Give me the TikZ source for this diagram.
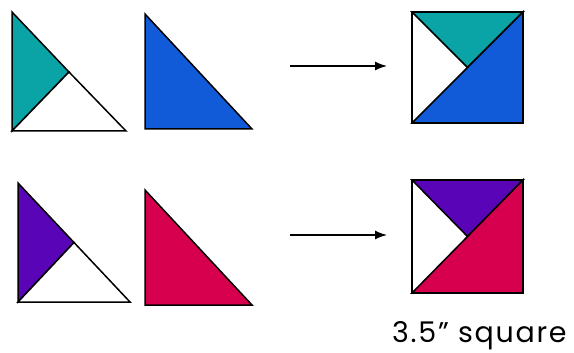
\documentclass[tikz,border=0pt]{standalone}
\usepackage{fontspec}
\setmainfont{Poppins}
\newfontfamily\beschrift{Poppins}[LetterSpace=6]
\usetikzlibrary{arrows.meta}
\definecolor{tuerkis}{HTML}{0AA4A7}
\definecolor{blau}{HTML}{115BD9}
\definecolor{lila}{HTML}{5A04B8}
\definecolor{rot}{HTML}{D6004F}
\tikzset{
  teil/.style={draw=black,line width=1.5pt,line join=miter},
  pfeil/.style={-{Latex[length=12pt,width=9pt]},black,line width=1.3pt},
}

\begin{document}
\begin{tikzpicture}[x=1pt,y=-1pt]
  \useasboundingbox (0,0) rectangle (574,353);
  % top row
  \draw[teil,fill=tuerkis] (12,12)--(69,72)--(12,131)--cycle;
  \draw[teil,fill=white] (12,131)--(69,72)--(126,131)--cycle;
  \draw[teil,fill=blau] (145,14)--(145,129)--(252,129)--cycle;
  \coordinate (a1) at (290,66); \coordinate (b1) at (387,66);
  \draw[pfeil] (a1)--(b1);
  \draw[teil,fill=tuerkis] (412,12)--(523,12)--(467.5,67.5)--cycle;
  \draw[teil,fill=blau] (412,123)--(523,12)--(523,123)--cycle;
  \draw[teil] (412,12) rectangle (523,123);
  % bottom row
  \draw[teil,fill=lila] (18,183)--(74,242.5)--(18,302)--cycle;
  \draw[teil,fill=white] (18,302)--(74,242.5)--(130,302)--cycle;
  \draw[teil,fill=rot] (145,190)--(145,305)--(252,305)--cycle;
  \coordinate (a2) at (290,235); \coordinate (b2) at (387,235);
  \draw[pfeil] (a2)--(b2);
  \draw[teil,fill=lila] (412,180)--(523,180)--(467.5,236.5)--cycle;
  \draw[teil,fill=rot] (412,293)--(523,180)--(523,293)--cycle;
  \draw[teil] (412,180) rectangle (523,293);
  \node[anchor=base west,inner sep=0pt,font=\beschrift\fontsize{28.5}{33}\selectfont] (masz) at (392,342) {3.5” square};
\end{tikzpicture}
\end{document}
